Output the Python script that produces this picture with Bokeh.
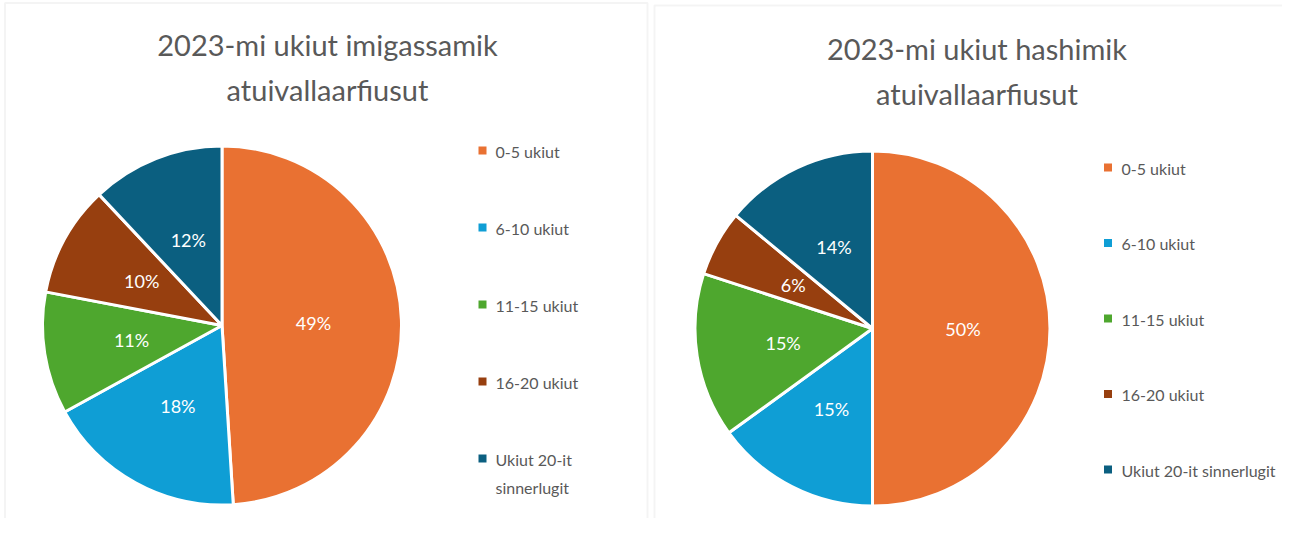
import math
import textwrap
import numpy as np
from bokeh.plotting import figure
from bokeh.layouts import row
from bokeh.models import Range1d, ColumnDataSource, BoxAnnotation
from bokeh.core.properties import value
from bokeh.embed import file_html
from bokeh.resources import INLINE

# ---------------- data ----------------
categories = ["0-5 ukiut", "6-10 ukiut", "11-15 ukiut", "16-20 ukiut", "Ukiut 20-it sinnerlugit"]
colors = ["#E97132", "#0F9ED5", "#4EA72E", "#973F0F", "#0B5F80"]

title_left = ["2023-mi ukiut imigassamik", "atuivallaarfiusut"]
values_left = [49, 18, 11, 10, 12]

title_right = ["2023-mi ukiut hashimik", "atuivallaarfiusut"]
values_right = [50, 15, 15, 6, 14]

FONT = value("Lato")
TEXT_GRAY = "#595959"
H = 518


def panel(x0, x1, box, titles, title_cx, title_y, vals, cx, cy, r,
          leg_sq_x, leg_txt_x, leg_y0, leg_dy, wrap_width):
    p = figure(width=x1 - x0, height=H,
               x_range=Range1d(x0, x1), y_range=Range1d(-H, 0),
               output_backend="svg", toolbar_location=None, tools="",
               x_axis_location=None, y_axis_location=None, min_border=0)
    p.grid.visible = False
    p.outline_line_color = None
    p.background_fill_color = "white"
    p.border_fill_color = "white"

    # chart-area border
    bl, br, bt, bb = box
    p.add_layout(BoxAnnotation(left=bl, right=br, top=-bt, bottom=-bb,
                               fill_color=None, fill_alpha=0,
                               line_color="#D9D9D9", line_width=2))

    v = np.array(vals, dtype=float)
    frac = v / v.sum()
    cum = np.cumsum(frac)
    start = math.pi / 2 - 2 * math.pi * (cum - frac)
    end = math.pi / 2 - 2 * math.pi * cum
    mid = math.pi / 2 - 2 * math.pi * (cum - frac / 2)

    src = ColumnDataSource(dict(start=start, end=end, color=colors,
                                cat=categories, val=vals))
    p.wedge(x=cx, y=-cy, radius=r, start_angle="start", end_angle="end",
            direction="clock", fill_color="color", line_color="white",
            line_width=3, source=src)

    # data labels
    lab = ColumnDataSource(dict(x=cx + 0.51 * r * np.cos(mid),
                                y=-cy + 0.51 * r * np.sin(mid),
                                t=[f"{int(round(x))}%" for x in vals]))
    p.text(x="x", y="y", text="t", source=lab, text_align="center",
           text_baseline="middle", text_color="white", text_font=FONT,
           text_font_size="18px")

    # title
    p.text(x=[title_cx] * len(titles), y=[-y for y in title_y], text=titles,
           text_align="center", text_baseline="middle", text_color=TEXT_GRAY,
           text_font=FONT, text_font_size="29px")

    # legend
    sq_y = [-(leg_y0 + i * leg_dy) for i in range(len(categories))]
    p.rect(x=[leg_sq_x] * len(categories), y=sq_y, width=8, height=8,
           fill_color=colors, line_color=None)
    tx, ty, tt = [], [], []
    for i, c in enumerate(categories):
        lines = textwrap.wrap(c, wrap_width) if wrap_width else [c]
        for j, ln in enumerate(lines):
            tx.append(leg_txt_x)
            ty.append(sq_y[i] - 0.5 - j * 28.5)
            tt.append(ln)
    p.text(x=tx, y=ty, text=tt, text_align="left", text_baseline="middle",
           text_color=TEXT_GRAY, text_font=FONT, text_font_size="16px")
    return p


p1 = panel(0, 650, (4.5, 647, 2.5, 533), title_left, 327, [43.5, 88.5],
           values_left, 221.5, 325, 179.5, 482, 495, 150, 77, 12)
p2 = panel(650, 1282, (654, 1297, 5, 545), title_right, 976.5, [48, 93],
           values_right, 872, 328, 177.5, 1107.5, 1121, 167, 75.5, 0)

layout = row(p1, p2, spacing=0)
open("out.html", "w").write(file_html(layout, INLINE))
